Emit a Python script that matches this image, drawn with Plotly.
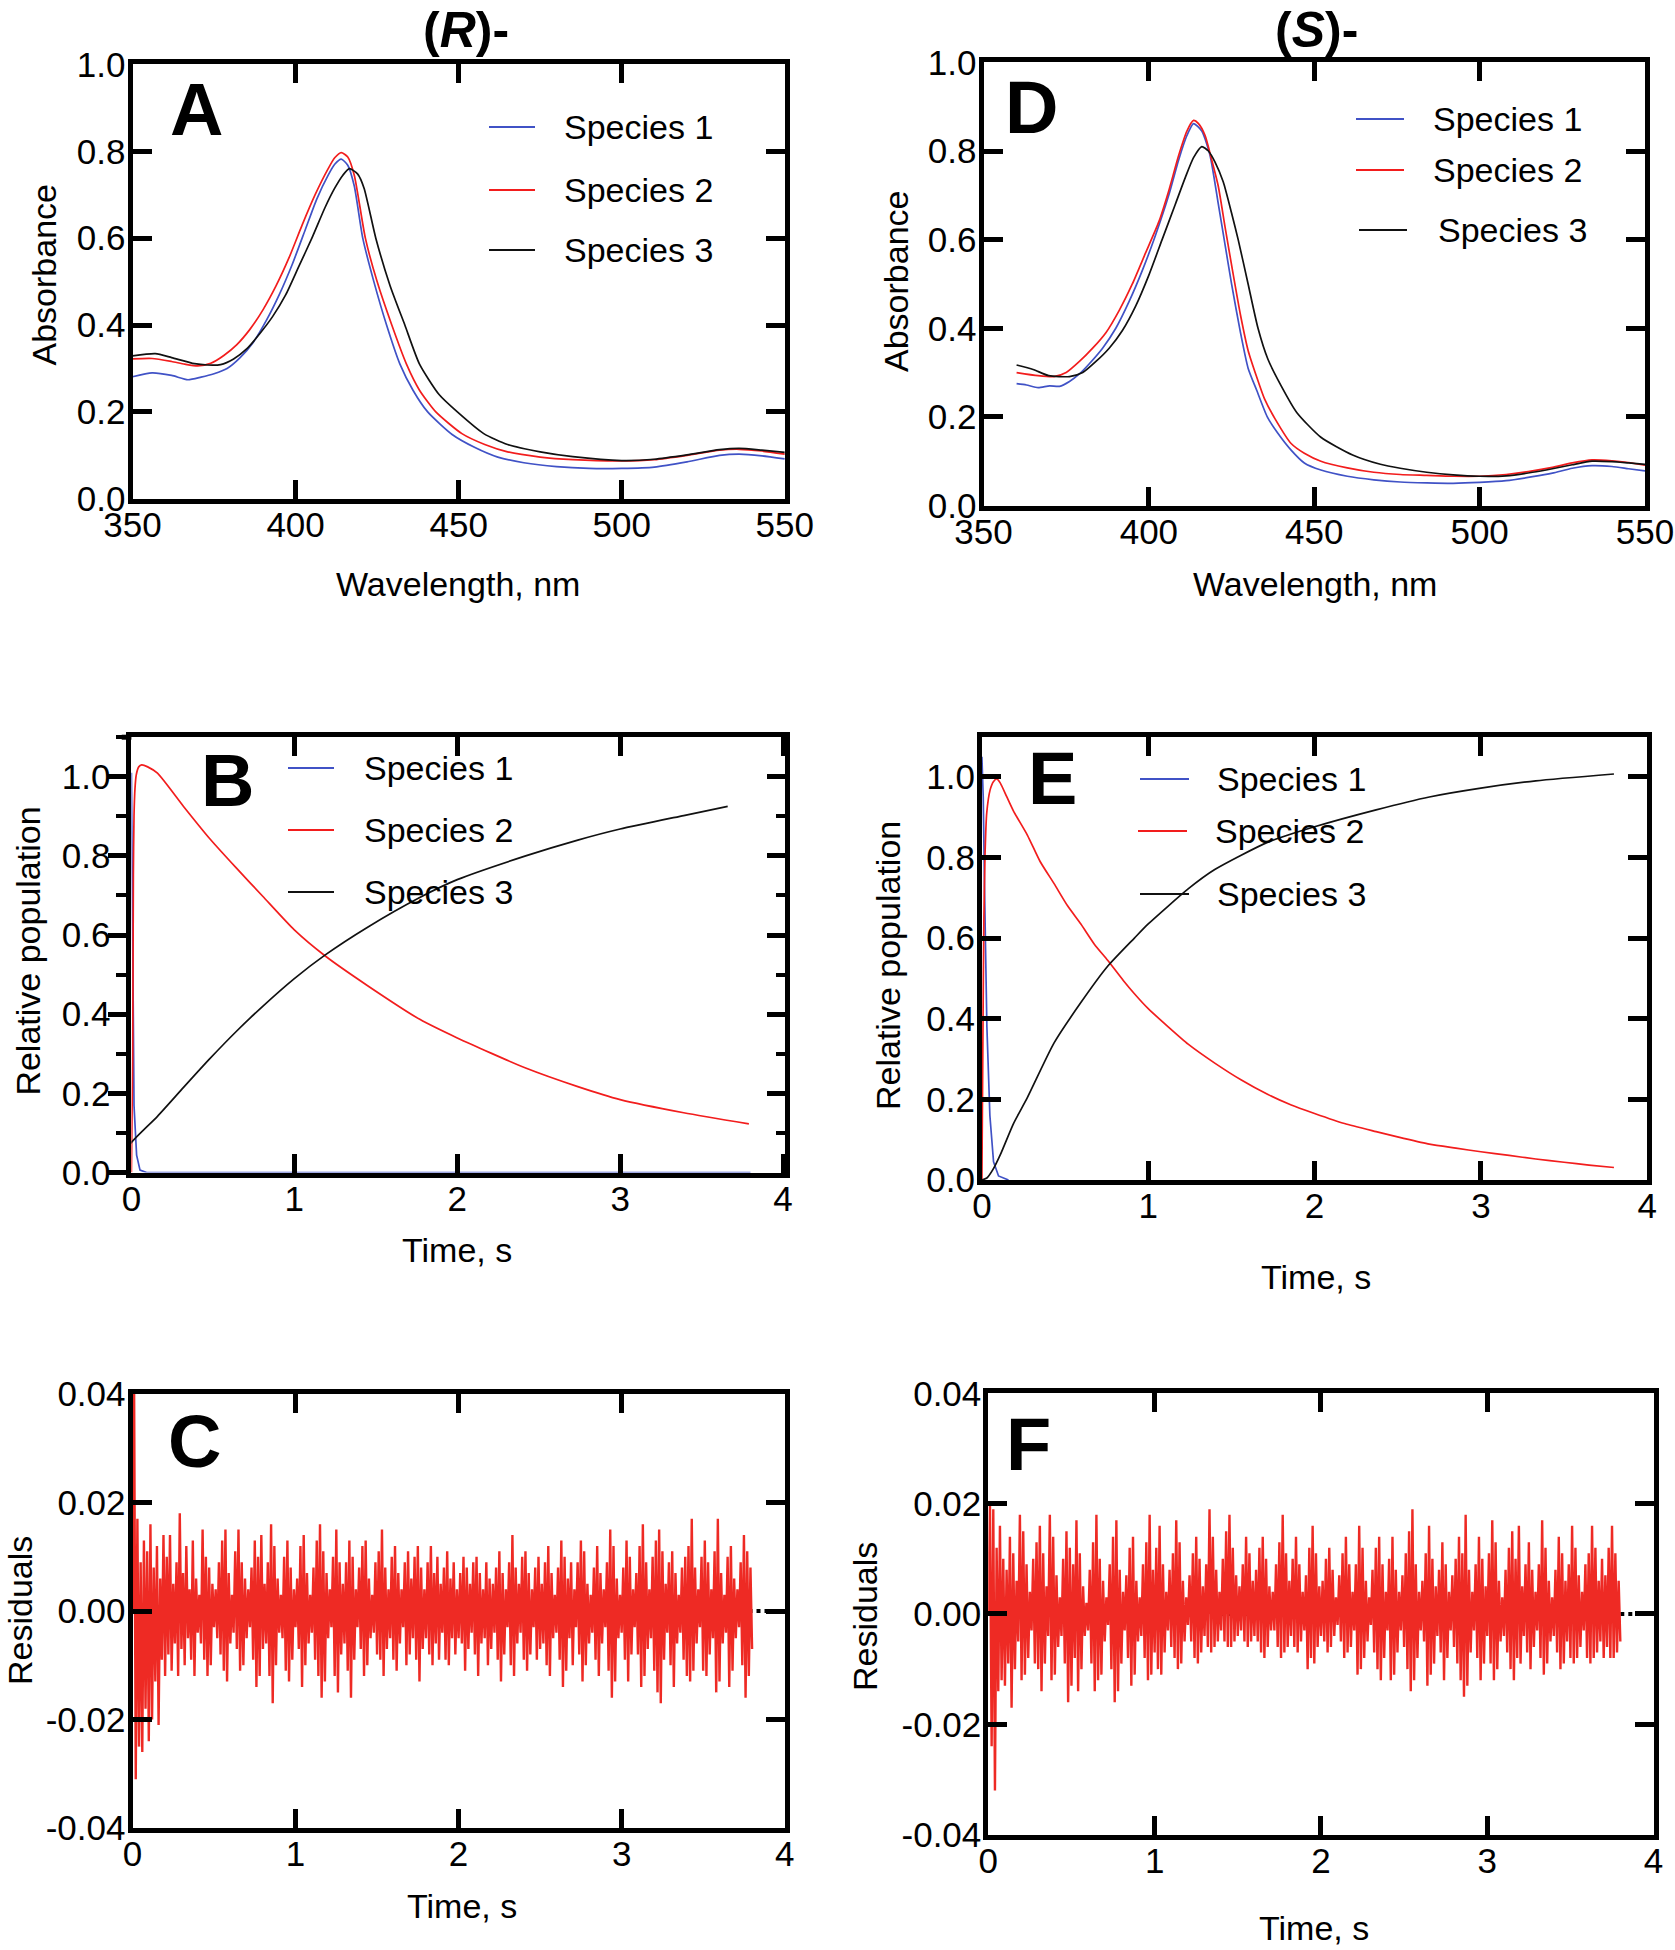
import plotly.graph_objects as go

W, H = 1675, 1950
FONT = "Liberation Sans, Arial, sans-serif"

# ---------------- data ----------------
SERIES = ["Species 1", "Species 2", "Species 3"]
COLORS = ["#4052c6", "#f21d1d", "#111111"]
RES_COLOR = "#ee2a24"

# Panel A  (R)- spectra
A1_wl = [350, 356, 362, 367, 371, 375, 379, 383, 387, 391, 395, 399, 403, 406.5, 410, 412, 414, 416, 418, 420.6, 424,
         427.9, 432, 436, 440.5, 448, 455, 462, 470, 480, 490, 500, 510, 520, 530, 536, 543, 550]
A1_abs = [0.281, 0.290, 0.284, 0.274, 0.280, 0.288, 0.300, 0.325, 0.360, 0.410, 0.470, 0.540, 0.620, 0.690, 0.745, 0.770,
          0.782, 0.768, 0.720, 0.600, 0.500, 0.400, 0.310, 0.250, 0.200, 0.148, 0.118, 0.096, 0.083, 0.074, 0.070, 0.070,
          0.073, 0.085, 0.100, 0.103, 0.099, 0.092]
A2_wl = [350, 356, 362, 366, 370, 374, 378, 382, 386, 390, 394, 398, 402, 406, 410, 412, 414, 416, 418, 421.4, 425,
         429.5, 434, 438, 443, 451, 458, 465, 475, 485, 500, 510, 520, 530, 536, 543, 550]
A2_abs = [0.322, 0.323, 0.316, 0.310, 0.306, 0.312, 0.330, 0.355, 0.390, 0.435, 0.490, 0.555, 0.630, 0.700, 0.760, 0.785,
          0.797, 0.787, 0.745, 0.600, 0.500, 0.400, 0.310, 0.250, 0.200, 0.150, 0.125, 0.108, 0.096, 0.090, 0.087, 0.090,
          0.100, 0.112, 0.114, 0.110, 0.103]
A3_wl = [350, 357, 362, 369, 373, 377, 381, 385, 389, 393, 397, 401, 405, 409, 412, 414.5, 416.5, 419, 421, 424.6, 429,
         433.5, 438, 444, 449.6, 457.7, 465, 475, 485, 500, 510, 520, 530, 536, 543, 550]
A3_abs = [0.329, 0.334, 0.325, 0.311, 0.308, 0.309, 0.322, 0.345, 0.380, 0.420, 0.470, 0.535, 0.600, 0.670, 0.715, 0.745,
          0.760, 0.748, 0.715, 0.600, 0.490, 0.400, 0.310, 0.240, 0.200, 0.150, 0.125, 0.108, 0.097, 0.088, 0.091, 0.101,
          0.113, 0.116, 0.112, 0.107]

# Panel D  (S)- spectra
D1_wl = [360, 363, 366.5, 370, 373, 376, 379, 382, 386, 390, 394, 398, 402, 406, 409, 411.5, 413.5, 416, 418.5, 421, 423,
         425, 427.7, 430, 432.6, 435.8, 439, 443, 447, 452, 460, 468, 476, 484, 492, 500, 508, 516, 522, 528, 534, 540, 545, 550]
D1_abs = [0.275, 0.272, 0.266, 0.270, 0.269, 0.280, 0.297, 0.320, 0.355, 0.400, 0.460, 0.530, 0.610, 0.700, 0.780, 0.835,
          0.862, 0.845, 0.790, 0.680, 0.590, 0.500, 0.390, 0.310, 0.260, 0.200, 0.163, 0.125, 0.096, 0.080, 0.066, 0.058,
          0.053, 0.051, 0.050, 0.052, 0.056, 0.065, 0.073, 0.084, 0.090, 0.088, 0.083, 0.078]
D2_wl = [360, 366.5, 371.3, 375, 379, 383, 387, 391, 395, 399, 403, 406, 409, 411.5, 413.5, 415, 417, 419, 421, 423, 425.3,
         427.7, 430, 432.6, 435, 438.2, 443, 447, 452, 460, 468, 476, 484, 492, 500, 508, 516, 522, 528, 534, 540, 545, 550]
D2_abs = [0.300, 0.293, 0.291, 0.300, 0.325, 0.355, 0.390, 0.440, 0.500, 0.570, 0.640, 0.710, 0.790, 0.845, 0.869, 0.862,
          0.835, 0.780, 0.720, 0.630, 0.530, 0.430, 0.350, 0.290, 0.240, 0.195, 0.140, 0.118, 0.100, 0.085, 0.075, 0.070,
          0.068, 0.066, 0.066, 0.070, 0.078, 0.086, 0.096, 0.103, 0.101, 0.097, 0.091]
D3_wl = [360, 365, 369.7, 376, 380, 384, 388, 392, 396, 400, 404, 408, 411, 413.5, 416, 418, 420, 422.5, 425, 427, 430, 433,
         436, 440, 444.7, 452, 461.6, 470, 476, 484, 492, 500, 508, 516, 522, 528, 534, 540, 545, 550]
D3_abs = [0.317, 0.307, 0.293, 0.291, 0.300, 0.325, 0.355, 0.395, 0.450, 0.520, 0.600, 0.680, 0.740, 0.785, 0.810, 0.800,
          0.775, 0.730, 0.660, 0.600, 0.500, 0.400, 0.330, 0.270, 0.210, 0.154, 0.114, 0.093, 0.084, 0.075, 0.069, 0.066,
          0.067, 0.075, 0.083, 0.092, 0.100, 0.099, 0.096, 0.093]

# Panel B  (R)- populations
B1_t = [0.0, 0.004, 0.008, 0.016, 0.032, 0.053, 0.094, 3.8]
B1_p = [1.01, 0.80, 0.45, 0.17, 0.044, 0.006, 0.0, 0.0]
B2_t = [0.0, 0.008, 0.012, 0.016, 0.022, 0.03, 0.045, 0.063, 0.1, 0.16, 0.32, 0.48, 0.645, 0.806, 1.0, 1.19, 1.45, 1.77,
        2.0, 2.42, 2.74, 3.0, 3.39, 3.79]
B2_p = [0.0, 0.30, 0.75, 0.90, 0.97, 1.005, 1.025, 1.03, 1.025, 1.009, 0.925, 0.844, 0.769, 0.698, 0.613, 0.547, 0.472,
        0.387, 0.340, 0.264, 0.217, 0.184, 0.151, 0.123]
B3_t = [-0.13, 0.0, 0.16, 0.32, 0.48, 0.645, 0.806, 1.0, 1.19, 1.45, 1.77, 2.0, 2.42, 2.74, 3.0, 3.39, 3.66]
B3_p = [0.0, 0.076, 0.142, 0.215, 0.287, 0.357, 0.420, 0.490, 0.550, 0.620, 0.695, 0.740, 0.800, 0.840, 0.868, 0.902, 0.925]

# Panel E  (S)- populations
E1_t = [0.0, 0.008, 0.016, 0.03, 0.048, 0.07, 0.1, 0.16]
E1_p = [1.05, 0.95, 0.72, 0.38, 0.16, 0.045, 0.01, 0.0]
E2_t = [0.0, 0.006, 0.012, 0.019, 0.029, 0.049, 0.069, 0.09, 0.11, 0.15, 0.19, 0.274, 0.35, 0.434, 0.515, 0.595, 0.676,
        0.756, 0.85, 0.917, 1.0, 1.12, 1.24, 1.40, 1.56, 1.72, 1.86, 2.0, 2.18, 2.37, 2.53, 2.69, 2.85, 3.0, 3.17, 3.33,
        3.5, 3.65, 3.80]
E2_p = [0.0, 0.35, 0.65, 0.81, 0.91, 0.967, 0.988, 0.995, 0.985, 0.95, 0.915, 0.855, 0.79, 0.735, 0.68, 0.635, 0.585,
        0.545, 0.495, 0.462, 0.425, 0.38, 0.337, 0.29, 0.248, 0.212, 0.186, 0.165, 0.14, 0.12, 0.104, 0.089, 0.079, 0.07,
        0.061, 0.052, 0.044, 0.037, 0.031]
E3_t = [0.0, 0.03, 0.065, 0.113, 0.19, 0.274, 0.434, 0.595, 0.756, 0.917, 1.0, 1.24, 1.40, 1.72, 2.0, 2.37, 2.69, 3.0,
        3.33, 3.80]
E3_p = [0.0, 0.005, 0.025, 0.065, 0.14, 0.205, 0.340, 0.440, 0.530, 0.600, 0.635, 0.722, 0.77, 0.838, 0.876, 0.918, 0.95,
        0.972, 0.99, 1.007]

# Residuals, sampled every 0.01 s from t = 0 (values in units of 0.001)
RES_DT = 0.01
RES_C_milli = [
    0,
    40, -31, 17, -25, 9, -26, 13, -18, 11, -24,
    16, -20, 8, -13, 12, -21, 6, -9, 14, -12,
    10, -8, 14, -11, 5, -6, 9, -12, 18, -7,
    7, -10, 12, -5, 4, -9, 13, -12, 6, -4,
    3, -6, 15, -9, 10, -12, 8, -10, 5, -3,
    4, -5, 9, -8, 13, -11, 15, -13, 7, -6,
    3, -4, 11, -7, 15, -11, 9, -10, 6, -5,
    4, -3, 8, -9, 13, -14, 10, -12, 14, -7,
    5, -6, 9, -12, 16, -17, 12, -10, 6, -4,
    3, -5, 10, -11, 13, -13, 8, -9, 4, -3,
    6, -7, 12, -14, 14, -10, 7, -6, 3, -4,
    8, -9, 13, -12, 16, -16, 11, -13, 7, -5,
    4, -3, 10, -12, 15, -15, 9, -8, 5, -6,
    9, -11, 13, -16, 10, -9, 4, -3, 8, -7,
    12, -12, 13, -10, 6, -5, 3, -4, 9, -8,
    11, -9, 15, -12, 8, -7, 4, -5, 10, -9,
    12, -11, 7, -6, 4, -3, 9, -10, 11, -8,
    6, -5, 10, -9, 12, -13, 8, -7, 4, -5,
    9, -8, 12, -10, 7, -6, 10, -9, 5, -4,
    8, -9, 11, -10, 6, -5, 9, -8, 4, -5,
    7, -6, 10, -11, 8, -7, 5, -4, 9, -8,
    10, -12, 7, -6, 4, -5, 9, -10, 6, -7,
    5, -4, 8, -9, 11, -13, 7, -8, 4, -3,
    9, -10, 14, -12, 8, -6, 5, -4, 10, -9,
    11, -11, 7, -8, 4, -3, 8, -9, 10, -7,
    5, -6, 9, -10, 12, -12, 7, -5, 3, -4,
    8, -9, 13, -14, 10, -11, 6, -5, 9, -10,
    4, -3, 9, -8, 13, -13, 11, -10, 5, -6,
    3, -4, 8, -9, 12, -12, 7, -6, 4, -3,
    9, -11, 15, -16, 12, -13, 6, -5, 3, -4,
    8, -9, 13, -13, 10, -8, 4, -3, 7, -8,
    12, -14, 16, -12, 9, -7, 4, -5, 10, -11,
    13, -15, 15, -17, 11, -9, 5, -4, 9, -10,
    11, -14, 7, -6, 3, -4, 8, -9, 10, -12,
    12, -13, 17, -11, 8, -6, 4, -3, 10, -11,
    13, -12, 9, -8, 4, -5, 11, -15, 17, -13,
    7, -6, 3, -4, 10, -14, 12, -11, 6, -5,
    4, -3, 9, -10, 14, -16, 11, -12, 8, -7]
RES_F_milli = [
    0,
    20, -24, 19, -32, 12, -14, 16, -12, 10, -13,
    8, -9, 14, -17, 11, -10, 6, -5, 18, -12,
    15, -11, 9, -8, 4, -3, 10, -9, 13, -10,
    16, -14, 11, -9, 5, -4, 18, -12, 14, -11,
    7, -6, 3, -4, 10, -9, 15, -16, 12, -13,
    9, -8, 17, -14, 11, -10, 5, -4, 2, -3,
    8, -9, 13, -14, 18, -12, 10, -11, 6, -5,
    3, -2, 9, -10, 14, -16, 17, -14, 8, -9,
    4, -3, 7, -8, 12, -13, 14, -11, 6, -5,
    3, -4, 9, -8, 13, -12, 18, -11, 8, -7,
    12, -10, 16, -11, 9, -7, 4, -3, 8, -6,
    11, -8, 17, -10, 13, -9, 6, -5, 3, -2,
    7, -5, 11, -8, 14, -9, 10, -7, 5, -4,
    9, -6, 19, -7, 14, -6, 8, -5, 4, -3,
    10, -5, 15, -6, 18, -6, 12, -5, 7, -4,
    5, -3, 9, -5, 14, -6, 11, -5, 6, -4,
    8, -5, 12, -7, 14, -8, 10, -6, 5, -3,
    4, -3, 9, -6, 13, -8, 18, -7, 11, -6,
    6, -4, 10, -6, 14, -7, 9, -5, 4, -3,
    7, -10, 12, -8, 16, -9, 11, -6, 5, -4,
    6, -5, 10, -7, 12, -6, 8, -4, 3, -2,
    7, -5, 11, -8, 14, -7, 9, -6, 4, -3,
    9, -11, 16, -10, 12, -8, 6, -5, 3, -2,
    8, -7, 12, -10, 14, -12, 9, -8, 4, -3,
    10, -12, 14, -11, 8, -7, 4, -3, 7, -6,
    11, -10, 15, -14, 19, -12, 9, -8, 4, -3,
    6, -5, 11, -13, 16, -11, 10, -9, 5, -4,
    8, -7, 13, -12, 9, -8, 4, -3, 7, -6,
    10, -9, 14, -12, 11, -15, 18, -13, 8, -7,
    4, -3, 9, -8, 14, -12, 10, -9, 5, -4,
    11, -9, 17, -12, 13, -10, 6, -5, 3, -4,
    8, -7, 12, -10, 15, -12, 10, -8, 16, -9,
    5, -4, 9, -7, 13, -10, 8, -6, 4, -3,
    9, -8, 17, -11, 12, -9, 6, -5, 3, -4,
    8, -7, 14, -10, 11, -9, 6, -5, 9, -8,
    16, -9, 12, -8, 7, -6, 4, -3, 9, -8,
    11, -9, 16, -8, 12, -7, 6, -5, 10, -8,
    7, -6, 12, -8, 16, -8, 11, -7, 6, -5]
ZERO_T = [0.0, 4.0]
ZERO_V = [0.0, 0.0]

# ---------------- layout helpers ----------------
def px(x):
    return x / W


def py(y):
    return 1 - y / H


# panel frames in pixels: (left, right, top, bottom)
FR = {
    "A": (132.5, 784.8, 64.4, 498.8),
    "B": (131.4, 784.7, 737.2, 1172.5),
    "C": (132.5, 784.7, 1394.0, 1828.0),
    "D": (983.5, 1645.0, 62.4, 505.5),
    "E": (981.9, 1647.2, 736.5, 1180.0),
    "F": (988.3, 1653.6, 1393.3, 1834.6),
}
AX = {"A": "1", "B": "2", "C": "3", "D": "4", "E": "5", "F": "6"}
TICK_SIZE = 35


def axis(letter, **kw):
    d = dict(showline=True, linewidth=5, linecolor="black", mirror="ticks", ticks="inside", ticklen=19,
             tickwidth=5, tickcolor="black", showgrid=False, zeroline=False, automargin=False,
             ticklabeloverflow="allow", ticklabelstandoff=(-9 if letter == "x" else -5),
             tickfont=dict(family=FONT, size=TICK_SIZE, color="black"))
    d.update(kw)
    return d


fig = go.Figure()


def add_lines(panel, xs_list, ys_list, shapes_):
    n = AX[panel]
    for i, (xs, ys) in enumerate(zip(xs_list, ys_list)):
        fig.add_trace(go.Scatter(x=xs, y=ys, mode="lines", name=SERIES[i],
                                 line=dict(color=COLORS[i], width=1.7, shape=shapes_[i], smoothing=0.6),
                                 xaxis="x" + n, yaxis="y" + n, showlegend=False))


add_lines("A", [A1_wl, A2_wl, A3_wl], [A1_abs, A2_abs, A3_abs], ["spline"] * 3)
add_lines("D", [D1_wl, D2_wl, D3_wl], [D1_abs, D2_abs, D3_abs], ["spline"] * 3)
add_lines("B", [B1_t, B2_t, B3_t], [B1_p, B2_p, B3_p], ["linear", "spline", "spline"])
add_lines("E", [E1_t, E2_t, E3_t], [E1_p, E2_p, E3_p], ["linear", "spline", "spline"])

for panel, vals in (("C", RES_C_milli), ("F", RES_F_milli)):
    n = AX[panel]
    fig.add_trace(go.Scatter(x=ZERO_T, y=ZERO_V, mode="lines", line=dict(color="black", width=4, dash="dot"),
                             xaxis="x" + n, yaxis="y" + n, showlegend=False))
    fig.add_trace(go.Scatter(x=[i * RES_DT for i in range(len(vals))], y=[v * 1e-3 for v in vals], mode="lines",
                             line=dict(color=RES_COLOR, width=2.4, simplify=False),
                             fill="tozeroy", fillcolor=RES_COLOR,
                             xaxis="x" + n, yaxis="y" + n, showlegend=False))

# dummy trace for the right-hand axis of panel B
fig.add_trace(go.Scatter(x=[None], y=[None], xaxis="x2", yaxis="y7", showlegend=False, hoverinfo="skip"))

lay = {}
for panel, (l, r, t, b) in FR.items():
    n = AX[panel]
    lay["xaxis" + ("" if n == "1" else n)] = dict(domain=[px(l), px(r)], anchor="y" + n)
    lay["yaxis" + ("" if n == "1" else n)] = dict(domain=[py(b), py(t)], anchor="x" + n)

spec_x = dict(range=[350, 550], tickvals=[350, 400, 450, 500, 550])
spec_y = dict(range=[0, 1.0], tickvals=[0, 0.2, 0.4, 0.6, 0.8, 1.0], ticktext=["0.0", "0.2", "0.4", "0.6", "0.8", "1.0"])
time_x = dict(range=[0, 4], tickvals=[0, 1, 2, 3, 4])
pop_y = dict(range=[0, 1.1], tickvals=[0, 0.2, 0.4, 0.6, 0.8, 1.0], ticktext=["0.0", "0.2", "0.4", "0.6", "0.8", "1.0"])
res_y = dict(range=[-0.04, 0.04], tickvals=[-0.04, -0.02, 0, 0.02, 0.04],
             ticktext=["-0.04", "-0.02", "0.00", "0.02", "0.04"])

lay["xaxis"].update(axis("x", **spec_x))
lay["yaxis"].update(axis("y", **spec_y))
lay["xaxis4"].update(axis("x", **spec_x))
lay["yaxis4"].update(axis("y", **spec_y))
lay["xaxis2"].update(axis("x", range=[0, 4.01], tickvals=[0, 1, 2, 3, 4]))
lay["yaxis2"].update(axis("y", mirror=False, ticks="outside", ticklen=18, ticklabelstandoff=-9,
                          minor=dict(ticks="outside", ticklen=10, tickwidth=4, tickcolor="black", dtick=0.1, tick0=0),
                          **pop_y))
lay["yaxis7"] = dict(overlaying="y2", anchor="x2", side="right", range=[0, 1.1], showline=True, linewidth=5,
                     linecolor="black", ticks="inside", ticklen=18, tickwidth=5, tickcolor="black", automargin=False,
                     tickvals=[0, 0.2, 0.4, 0.6, 0.8, 1.0], showticklabels=False, showgrid=False, zeroline=False,
                     minor=dict(ticks="inside", ticklen=9, tickwidth=4, tickcolor="black", dtick=0.1, tick0=0))
lay["xaxis5"].update(axis("x", **time_x))
lay["yaxis5"].update(axis("y", **pop_y))
lay["xaxis3"].update(axis("x", **time_x))
lay["yaxis3"].update(axis("y", **res_y))
lay["xaxis6"].update(axis("x", **time_x))
lay["yaxis6"].update(axis("y", **res_y))

annotations = []
shapes = []


def text(x, y, s, size=34, angle=0, xanchor="center", yanchor="middle", bold=False):
    annotations.append(dict(x=px(x), y=py(y), xref="paper", yref="paper", text=("<b>%s</b>" % s) if bold else s,
                            showarrow=False, textangle=angle, xanchor=xanchor, yanchor=yanchor,
                            font=dict(family=FONT, size=size, color="black")))


# column titles
text(466, 0, "(<i>R</i>)-", size=50, yanchor="top", bold=True)
text(1316, 0, "(<i>S</i>)-", size=50, yanchor="top", bold=True)

# panel letters
for s, (x, y) in {"A": (196, 109), "D": (1031, 108), "B": (227.5, 780), "E": (1052, 778),
                  "C": (194.5, 1441), "F": (1028, 1444)}.items():
    text(x, y, s, size=74, bold=True)

# axis titles
text(458, 584, "Wavelength, nm")
text(1315, 584, "Wavelength, nm")
text(457, 1250, "Time, s")
text(1316, 1277, "Time, s")
text(462, 1906, "Time, s")
text(1314, 1928, "Time, s")
text(43.5, 275, "Absorbance", angle=-90)
text(896, 281, "Absorbance", angle=-90)
text(27.6, 951, "Relative population", angle=-90)
text(888, 966, "Relative population", angle=-90)
text(20, 1611, "Residuals", angle=-90)
text(865, 1617, "Residuals", angle=-90)

# legends (line sample + label)
LEGENDS = {
    "A": [(489, 535, 562, 127), (489, 535, 562, 190), (489, 535, 562, 250)],
    "D": [(1356, 1404, 1431, 119), (1356, 1404, 1431, 170), (1359, 1407, 1436, 230)],
    "B": [(288, 334, 362, 768), (288, 334, 362, 830), (288, 334, 362, 892)],
    "E": [(1140, 1189, 1215, 779), (1138, 1187, 1213, 831), (1140, 1189, 1215, 894)],
}
for panel, items in LEGENDS.items():
    for i, (x0, x1, tx, y) in enumerate(items):
        shapes.append(dict(type="line", xref="paper", yref="paper", x0=px(x0), x1=px(x1), y0=py(y), y1=py(y),
                           line=dict(color=COLORS[i], width=1.8)))
        text(tx, y, SERIES[i], size=34, xanchor="left")

# top border of panel B continues a little to the left of the y axis
shapes.append(dict(type="line", xref="paper", yref="paper", x0=px(121.7), x1=px(131.4), y0=py(737.2), y1=py(737.2),
                   line=dict(color="black", width=5)))

fig.update_layout(width=W, height=H, margin=dict(l=0, r=0, t=0, b=0, pad=0, autoexpand=False),
                  paper_bgcolor="white", plot_bgcolor="white",
                  showlegend=False, annotations=annotations, shapes=shapes, font=dict(family=FONT, color="black"),
                  **lay)

fig.write_html("out.html", config={"displayModeBar": False},
               post_script="document.body.style.margin='0';")
